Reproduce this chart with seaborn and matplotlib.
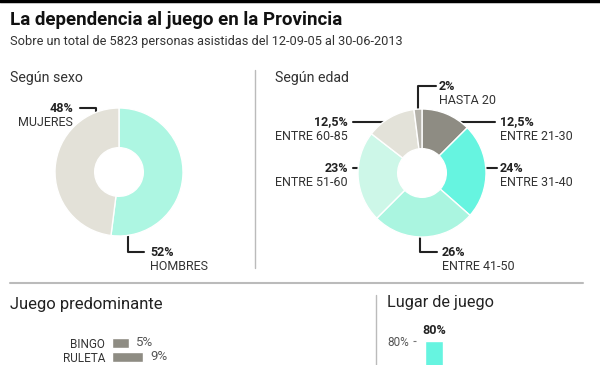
import matplotlib
matplotlib.use('Agg')
import matplotlib.pyplot as plt
import seaborn as sns
import pandas as pd

# datos
sexo_labels = ['HOMBRES', 'MUJERES']
sexo_values = [52, 48]
sexo_text = ['52%', '48%']

edad_labels = ['ENTRE 21-30', 'ENTRE 31-40', 'ENTRE 41-50', 'ENTRE 51-60', 'ENTRE 60-85', 'HASTA 20']
edad_values = [12.5, 24, 26, 23, 12.5, 2]
edad_text = ['12,5%', '24%', '26%', '23%', '12,5%', '2%']

juego_labels = ['BINGO', 'RULETA']
juego_values = [5, 9]

lugar_labels = ['lugar']
lugar_values = [80]

sexo_colors = ['#adf6e2', '#e3e1d8']
edad_colors = ['#8e8c83', '#66f4e0', '#aaf5e0', '#cdf7e8', '#e3e2d9', '#b4b2aa']

sns.set_style('white')
plt.rcParams['font.family'] = ['Roboto', 'DejaVu Sans']

W, H = 600, 365
fig = plt.figure(figsize=(6, 3.65), dpi=100)


def px_axes(x, y, w, h):
    return fig.add_axes([x / W, 1 - (y + h) / H, w / W, h / H])


# capa para textos y lineas
base = fig.add_axes([0, 0, 1, 1])
base.set_xlim(0, W)
base.set_ylim(H, 0)
base.axis('off')

dark = '#222222'
base.plot([0, W], [1.3, 1.3], color='black', lw=2.5)
base.text(10, 20, 'La dependencia al juego en la Provincia', fontsize=13.5, fontweight='bold', va='center', color='#111111')
base.text(10, 41, 'Sobre un total de 5823 personas asistidas del 12-09-05 al 30-06-2013', fontsize=9.2, va='center', color='#333333')
base.text(10, 78, 'Según sexo', fontsize=10.2, va='center', color='#333333')
base.text(275, 78, 'Según edad', fontsize=10.2, va='center', color='#333333')
base.plot([255, 255], [70, 268], color='#bbbbbb', lw=1)
base.plot([10, 583], [283, 283], color='#bbbbbb', lw=1.5)
base.plot([376, 376], [295, 365], color='#bbbbbb', lw=1)
base.text(10, 305, 'Juego predominante', fontsize=12, va='center', color='#222222')
base.text(387, 303, 'Lugar de juego', fontsize=11.7, va='center', color='#222222')

# donut sexo
ax1 = px_axes(55, 108, 128, 128)
ax1.pie(sexo_values, colors=sexo_colors, startangle=90, counterclock=False,
        wedgeprops=dict(width=0.62, edgecolor='white', linewidth=1))
ax1.set_xlim(-1, 1)
ax1.set_ylim(-1, 1)

# donut edad
ax2 = px_axes(358, 109, 128, 128)
ax2.pie(edad_values, colors=edad_colors, startangle=90, counterclock=False,
        wedgeprops=dict(width=0.62, edgecolor='white', linewidth=1))
ax2.set_xlim(-1, 1)
ax2.set_ylim(-1, 1)


def label(x, y, pct, name, ha):
    base.text(x, y, pct, fontsize=9, fontweight='bold', ha=ha, va='center', color=dark)
    base.text(x, y + 15, name, fontsize=9, ha=ha, va='center', color='#333333')


# etiquetas sexo
label(73, 108, sexo_text[1], sexo_labels[1], 'right')
base.plot([80, 96, 96], [108, 108, 143], color=dark, lw=1.5)
label(150, 252, sexo_text[0], sexo_labels[0], 'left')
base.plot([128, 128, 144], [224, 252, 252], color=dark, lw=1.5)

# etiquetas edad
label(500, 122, edad_text[0], edad_labels[0], 'left')
base.plot([495, 447, 447], [122, 122, 136], color=dark, lw=1.5)
label(500, 168, edad_text[1], edad_labels[1], 'left')
base.plot([478, 497], [168, 168], color=dark, lw=1.5)
label(442, 252, edad_text[2], edad_labels[2], 'left')
base.plot([420, 420, 437], [222, 252, 252], color=dark, lw=1.5)
label(348, 168, edad_text[3], edad_labels[3], 'right')
base.plot([353, 370], [168, 168], color=dark, lw=1.5)
label(348, 122, edad_text[4], edad_labels[4], 'right')
base.plot([353, 390, 390], [122, 122, 136], color=dark, lw=1.5)
label(439, 86, edad_text[5], edad_labels[5], 'left')
base.plot([436, 418, 418], [86, 86, 122], color=dark, lw=1.5)

# juego predominante
ax3 = px_axes(112, 336, 100, 28)
juego = pd.DataFrame({'juego': juego_labels, 'pct': juego_values})
sns.barplot(data=juego, x='pct', y='juego', color='#8e8c83', width=0.75, ax=ax3, saturation=1)
ax3.set_xlim(0, 100 / 3.45)
ax3.set_ylim(1.5, -0.5)
ax3.bar_label(ax3.containers[0], labels=[f'{v}%' for v in juego_values], padding=5, fontsize=9.5, color='#555555')
ax3.set_xlabel('')
ax3.set_ylabel('')
ax3.set_xticks([])
ax3.tick_params(axis='y', length=0, pad=5, labelsize=8.5, labelcolor='#333333')
sns.despine(ax=ax3, left=True, bottom=True)
ax3.patch.set_visible(False)

# lugar de juego
k = 1.2
ax4 = px_axes(416, 341 - 20 * k, 60, 100 * k)
lugar = pd.DataFrame({'lugar': lugar_labels, 'pct': lugar_values})
sns.barplot(data=lugar, x='lugar', y='pct', color='#66f4e0', width=0.9, ax=ax4, saturation=1)
ax4.set_xlim(-0.9, 2.1)
ax4.set_ylim(0, 100)
ax4.set_yticks([80])
ax4.set_yticklabels(['80%'])
ax4.tick_params(axis='y', length=2.2, width=0.8, color='#777777', pad=3, labelsize=8.5, labelcolor='#555555', left=True)
ax4.set_xticks([])
ax4.set_xlabel('')
ax4.set_ylabel('')
ax4.bar_label(ax4.containers[0], labels=[f'{v}%' for v in lugar_values], padding=3, fontsize=9, fontweight='bold', color=dark)
sns.despine(ax=ax4, left=True, bottom=True)
ax4.patch.set_visible(False)

fig.savefig('out.png', dpi=100, facecolor='white')
